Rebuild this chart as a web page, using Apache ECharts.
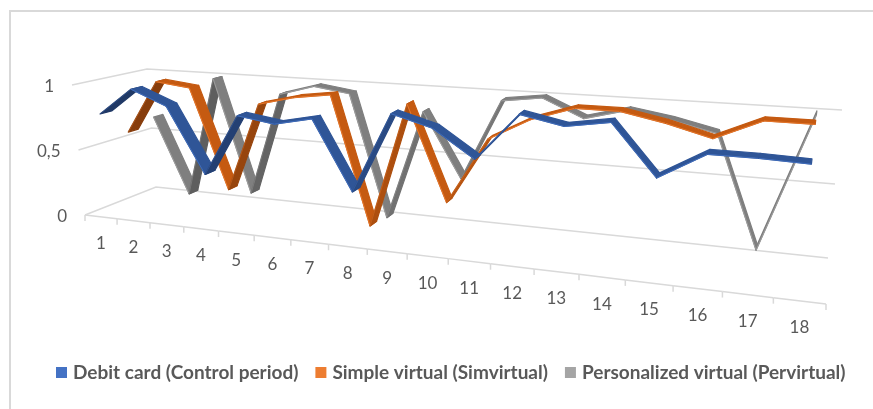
<!DOCTYPE html>
<html>
<head>
<meta charset="utf-8">
<style>
  html, body { margin: 0; padding: 0; background: #fff; }
  #chart { width: 873px; height: 409px; }
</style>
</head>
<body>
<div id="chart"></div>
<script src="https://cdn.jsdelivr.net/npm/echarts@6/dist/echarts.min.js"></script>
<script>
var categories = ['1','2','3','4','5','6','7','8','9','10','11','12','13','14','15','16','17','18'];
var yTicks = [0, 0.5, 1];
var yTickLabels = ['0', '0,5', '1'];
var debitCard = [0.77,0.98,0.87,0.38,0.84,0.80,0.86,0.36,0.94,0.86,0.67,1.0,0.94,0.99,0.65,0.83,0.83,0.82];
var simVirtual = [0.57,0.99,0.96,0.19,0.87,0.94,0.98,0.03,0.95,0.26,0.74,0.90,1.0,1.0,0.94,0.86,1.0,1.0];
var perVirtual = [0.63,0.02,0.98,0.08,0.89,0.97,0.93,0.0,0.83,0.35,0.95,0.99,0.86,0.94,0.89,0.82,0.05,0.99];

var TEXT = '#595959';
var GRID = '#d9d9d9';

// corners of the 3d box on screen: [u][v][d]
var box = {
  l0f: [85, 215], l1f: [72, 85], l0b: [156, 187], l1b: [147, 69],
  r0f: [826, 304], r1f: [841, 141], r0b: [828, 258], r1b: [842, 110]
};
var persp = 1.3;

function lerp(a, b, t) {
  return [a[0] + (b[0] - a[0]) * t, a[1] + (b[1] - a[1]) * t];
}
// u, v, d all 0..1
function project(u, v, d) {
  var f = u / (u + persp * (1 - u));
  var left = lerp(lerp(box.l0f, box.l1f, v), lerp(box.l0b, box.l1b, v), d);
  var right = lerp(lerp(box.r0f, box.r1f, v), lerp(box.r0b, box.r1b, v), d);
  return lerp(left, right, f);
}
// axis pixel -> unit square of the hidden grid
function toUnit(params, px) {
  var r = params.coordSys;
  return [(px[0] - r.x) / r.width, 1 - (px[1] - r.y) / r.height];
}

function ribbon(name, values, d0, d1, lit, dark, edge, z) {
  var segs = [];
  for (var i = 0; i < values.length - 1; i++) {
    segs.push([i, values[i], values[i + 1]]);
  }
  return {
    type: 'custom',
    name: name,
    z: z,
    clip: false,
    silent: true,
    animation: false,
    itemStyle: { color: edge },
    encode: { x: 0, y: 1 },
    data: segs,
    renderItem: function (params, api) {
      var a = toUnit(params, api.coord([api.value(0), api.value(1)]));
      var b = toUnit(params, api.coord([api.value(0) + 1, api.value(2)]));
      var p1 = project(a[0], a[1], d0);
      var p2 = project(b[0], b[1], d0);
      var p3 = project(b[0], b[1], d1);
      var p4 = project(a[0], a[1], d1);
      // underside of the ribbon shows when it climbs steeper than the depth direction
      var cross = (p4[0] - p1[0]) * (p2[1] - p1[1]) - (p4[1] - p1[1]) * (p2[0] - p1[0]);
      // the dark side fades out further along the axis
      var fill = cross < 0 ? echarts.color.lerp(Math.min(1, a[0] * 1.5), [dark, lit]) : lit;
      return {
        type: 'group',
        children: [
          { type: 'polygon', shape: { points: [p1, p2, p3, p4] },
            style: { fill: fill, stroke: fill, lineWidth: 1.2, lineJoin: 'round' } },
          { type: 'polyline', shape: { points: [p1, p2] },
            style: { fill: null, stroke: edge, lineWidth: 1, opacity: cross < 0 ? 0.35 : 0.8 } }
        ]
      };
    }
  };
}

// back wall, side wall and floor lines, from the value ticks
var wallSeries = {
  type: 'custom',
  z: 1,
  clip: false,
  silent: true,
  animation: false,
  encode: { x: 0, y: 1 },
  data: yTicks.map(function (t, i) { return [0, t, i]; }),
  renderItem: function (params, api) {
    var v = toUnit(params, api.coord([0, api.value(1)]))[1];
    var lab = project(0, v, 0);
    return {
      type: 'group',
      children: [
        { type: 'polyline',
          shape: { points: [project(0, v, 0), project(0, v, 1), project(1, v, 1)] },
          style: { fill: null, stroke: GRID, lineWidth: 1.5 } },
        { type: 'text',
          style: { x: lab[0] - 18, y: lab[1] + 2, text: yTickLabels[api.value(2)], fill: TEXT,
            font: '17px Lato', align: 'right', verticalAlign: 'middle' } }
      ]
    };
  }
};

// category axis along the front of the floor
var axisSeries = {
  type: 'custom',
  z: 2,
  clip: false,
  silent: true,
  animation: false,
  encode: { x: 0, y: 1 },
  data: categories.map(function (c, i) { return [i, 0]; }),
  renderItem: function (params, api) {
    var half = api.size([1, 0])[0] / 2;
    var mid = api.coord([api.value(0), 0]);
    var u0 = toUnit(params, [mid[0] - half, mid[1]]);
    var u1 = toUnit(params, [mid[0] + half, mid[1]]);
    var um = toUnit(params, mid);
    var a = project(u0[0], 0, 0);
    var b = project(u1[0], 0, 0);
    var c = project(um[0], 0, 0);
    var kids = [
      { type: 'line', shape: { x1: a[0], y1: a[1], x2: b[0], y2: b[1] },
        style: { stroke: GRID, lineWidth: 1.5 } },
      { type: 'line', shape: { x1: b[0], y1: b[1], x2: b[0], y2: b[1] + 6 },
        style: { stroke: GRID, lineWidth: 1.5 } },
      { type: 'text',
        style: { x: c[0], y: c[1] + 27, text: categories[api.value(0)], fill: TEXT,
          font: '17px Lato', align: 'center', verticalAlign: 'middle' } }
    ];
    if (api.value(0) === 0) {
      kids.push({ type: 'line', shape: { x1: a[0], y1: a[1], x2: a[0], y2: a[1] + 6 },
        style: { stroke: GRID, lineWidth: 1.5 } });
    }
    return { type: 'group', children: kids };
  }
};

var chart = echarts.init(document.getElementById('chart'));
chart.setOption({
  animation: false,
  backgroundColor: '#fff',
  grid: { left: 0, right: 0, top: 0, bottom: 0 },
  xAxis: { type: 'category', data: categories, show: false },
  yAxis: { type: 'value', min: 0, max: 1, interval: 0.5, show: false },
  legend: {
    left: 51,
    top: 358,
    itemWidth: 11,
    itemHeight: 11,
    itemGap: 17,
    icon: 'rect',
    selectedMode: false,
    textStyle: { color: TEXT, fontFamily: 'Lato', fontWeight: 'bold', fontSize: 19, padding: [0, 0, 0, 1] },
    data: ['Debit card (Control period)', 'Simple virtual (Simvirtual)', 'Personalized virtual (Pervirtual)']
  },
  graphic: [
    { type: 'polyline', silent: true,
      shape: { points: [[10, 409], [10, 11], [873, 11]] },
      style: { fill: null, stroke: GRID, lineWidth: 2 } }
  ],
  series: [
    wallSeries,
    axisSeries,
    ribbon('Personalized virtual (Pervirtual)', perVirtual, 0.84, 0.97, '#7f7f7f', '#595959', '#a5a5a5', 3),
    ribbon('Simple virtual (Simvirtual)', simVirtual, 0.48, 0.62, '#c55a11', '#843c0c', '#ed7d31', 4),
    ribbon('Debit card (Control period)', debitCard, 0.12, 0.28, '#2f5597', '#1f3864', '#4472c4', 5)
  ]
});
</script>
</body>
</html>
